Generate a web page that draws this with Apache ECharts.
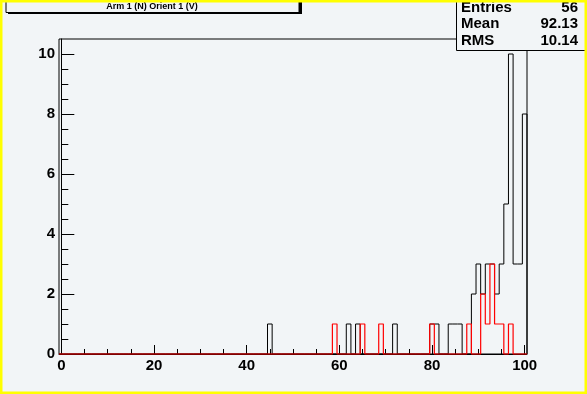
<!DOCTYPE html>
<html>
<head>
<meta charset="utf-8">
<script src="https://cdn.jsdelivr.net/npm/echarts@6/dist/echarts.min.js"></script>
<style>
  html, body { margin: 0; padding: 0; background: #f2f5f7; }
  #c { width: 587px; height: 394px; }
</style>
</head>
<body>
<div id="c"></div>
<script>
// ---- data ----
const histTitle = 'Arm 1 (N) Orient 1 (V)';
const xMin = -0.5, xMax = 100.5, binWidth = 1;      // 101 bins centred on integers
const blackBinsX = [45, 62, 64, 72, 80, 81, 84, 85, 86, 89, 90, 91, 92, 93, 94, 95, 96, 97, 98, 99, 100];
const blackBinsN = [1, 1, 1, 1, 1, 1, 1, 1, 1, 2, 3, 2, 3, 3, 2, 3, 5, 10, 3, 3, 8];
const redBinsX = [59, 65, 69, 80, 88, 91, 92, 93, 94, 95, 97];
const redBinsN = [1, 1, 1, 1, 1, 2, 1, 3, 1, 1, 1];
const xMajorTicks = [0, 20, 40, 60, 80, 100];
const xMinorTicks = [5, 10, 15, 25, 30, 35, 45, 50, 55, 65, 70, 75, 85, 90, 95];
const yMajorTicks = [0, 2, 4, 6, 8, 10];
const yMinorTicks = [0.5, 1, 1.5, 2.5, 3, 3.5, 4.5, 5, 5.5, 6.5, 7, 7.5, 8.5, 9, 9.5];
const yMax = 10.5;
const statsLabels = ['Entries', 'Mean', 'RMS'];
const statsValues = ['56', '92.13', '10.14'];

// ---- build histogram outlines (step lines) ----
function stepPoints(binsX, binsN) {
  const nBins = Math.round((xMax - xMin) / binWidth);
  const counts = new Array(nBins).fill(0);
  binsX.forEach((x, i) => { counts[Math.round((x - xMin - binWidth / 2) / binWidth)] = binsN[i]; });
  const pts = [[xMin, 0]];
  for (let k = 0; k < nBins; k++) pts.push([xMin + k * binWidth, counts[k]]);
  pts.push([xMax, counts[nBins - 1]]);
  pts.push([xMax, 0]);
  return pts;
}

const FONT = '"Liberation Sans", Arial, sans-serif';
const chart = echarts.init(document.getElementById('c'), null, { renderer: 'canvas' });

const xBase = { type: 'value', min: xMin, max: xMax, position: 'bottom', gridIndex: 0, splitLine: { show: false } };
const yBase = { type: 'value', min: 0, max: yMax, position: 'left', gridIndex: 0, splitLine: { show: false } };

chart.setOption({
  animation: false,
  backgroundColor: '#f2f5f7',
  grid: { left: 59, width: 468, top: 39, height: 315, show: true, borderColor: '#000', borderWidth: 1, backgroundColor: 'transparent' },
  xAxis: [
    Object.assign({}, xBase, {
      axisLine: { show: true, lineStyle: { color: '#000', width: 1 } },
      axisTick: { show: true, inside: true, length: 9, customValues: xMajorTicks, lineStyle: { color: '#000' } },
      axisLabel: { show: true, customValues: xMajorTicks, margin: 4, color: '#000', fontFamily: FONT, fontWeight: 'bold', fontSize: 15 }
    }),
    Object.assign({}, xBase, {
      axisLine: { show: false },
      axisTick: { show: true, inside: true, length: 5, customValues: xMinorTicks, lineStyle: { color: '#000' } },
      axisLabel: { show: false }
    })
  ],
  yAxis: [
    Object.assign({}, yBase, {
      axisLine: { show: true, lineStyle: { color: '#000', width: 1 } },
      axisTick: { show: true, inside: true, length: 13, customValues: yMajorTicks, lineStyle: { color: '#000' } },
      axisLabel: { show: true, customValues: yMajorTicks, margin: 4, color: '#000', fontFamily: FONT, fontWeight: 'bold', fontSize: 15 }
    }),
    Object.assign({}, yBase, {
      offset: 0,
      axisLine: { show: false },
      axisTick: { show: true, inside: true, length: 7, customValues: yMinorTicks, lineStyle: { color: '#000' } },
      axisLabel: { show: false }
    })
  ],
  series: [
    {
      type: 'line', name: 'black', xAxisIndex: 0, yAxisIndex: 0, step: 'end',
      data: stepPoints(blackBinsX, blackBinsN), showSymbol: false, symbol: 'none',
      lineStyle: { color: '#000', width: 1 }, z: 3, clip: false
    },
    {
      type: 'line', name: 'red', xAxisIndex: 0, yAxisIndex: 0, step: 'end',
      data: stepPoints(redBinsX, redBinsN), showSymbol: false, symbol: 'none',
      lineStyle: { color: '#ff0000', width: 1.2 }, z: 4, clip: false
    }
  ],
  graphic: [
    // title box with shadow
    { type: 'rect', z: 100, shape: { x: 8, y: -5, width: 294, height: 19 }, style: { fill: '#000' } },
    { type: 'rect', z: 101, shape: { x: 6, y: -5, width: 293, height: 17.5 }, style: { fill: '#f2f5f7', stroke: '#000', lineWidth: 1 } },
    { type: 'text', z: 102, style: { text: histTitle, x: 152, y: 6.5, textAlign: 'center', textVerticalAlign: 'middle', font: 'bold 9px ' + FONT, fill: '#000' } },
    // stats box
    { type: 'rect', z: 100, shape: { x: 456.5, y: -5, width: 140, height: 55.5 }, style: { fill: '#f2f5f7', stroke: '#000', lineWidth: 1 } },
    ...statsLabels.map((t, i) => ({ type: 'text', z: 102, style: { text: t, x: 461, y: 7.5 + i * 16.5, textAlign: 'left', textVerticalAlign: 'middle', font: 'bold 15px ' + FONT, fill: '#000' } })),
    ...statsValues.map((t, i) => ({ type: 'text', z: 102, style: { text: t, x: 578, y: 7.5 + i * 16.5, textAlign: 'right', textVerticalAlign: 'middle', font: 'bold 15px ' + FONT, fill: '#000' } })),
    // yellow canvas border
    { type: 'rect', z: 200, shape: { x: 0, y: 0, width: 587, height: 394 }, style: { fill: 'none', stroke: '#ffff00', lineWidth: 5 } }
  ]
});
</script>
</body>
</html>
